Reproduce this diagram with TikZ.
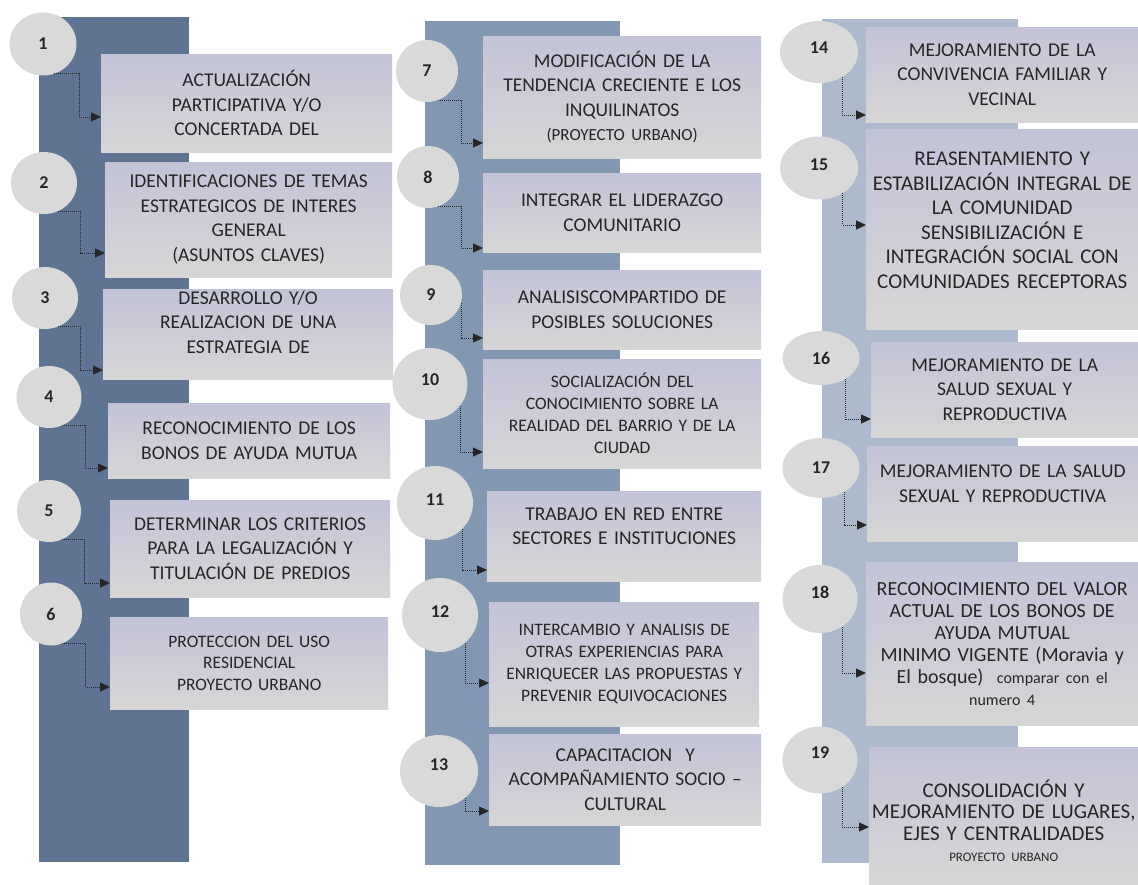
\documentclass[tikz,border=0pt]{standalone}
\usepackage{fontspec}
\setmainfont{Carlito}
\usepackage{xcolor}
\usepackage{tikz}
\usetikzlibrary{shapes,arrows,arrows.meta,positioning}
\definecolor{spinedark}{RGB}{95,115,146}
\definecolor{spinemid}{RGB}{130,151,177}
\definecolor{spinelight}{RGB}{173,186,205}
\definecolor{bubble}{RGB}{217,217,217}
\definecolor{boxtop}{RGB}{195,195,216}
\definecolor{boxbottom}{RGB}{214,214,214}
\definecolor{ink}{RGB}{38,38,38}
\tikzstyle{number} = [ellipse, fill=bubble, text=ink, inner sep=0pt, font=\fontsize{18}{20}\selectfont\bfseries]
\tikzstyle{task} = [rectangle, anchor=north west, top color=boxtop, bottom color=boxbottom, text=ink, align=center, inner xsep=2pt, inner ysep=0pt, font=\fontsize{19.5}{24.5}\selectfont]
\tikzstyle{boxw} = [minimum width=#1pt, text width=#1pt-4pt]
\tikzstyle{small} = [font=\fontsize{17.5}{22}\selectfont]
\tikzstyle{line} = [draw, ink, line width=0.9pt, dash pattern=on 1pt off 1pt, -{Triangle[length=10pt,width=9pt]}]

\begin{document}
\begin{tikzpicture}[x=1pt, y=-1pt]
    \useasboundingbox [fill=white] (0,0) rectangle (1138,884);
    % backbones
    \fill [spinedark] (39,17) rectangle (189,862);
    \fill [spinemid] (425,21) rectangle (620,865);
    \fill [spinelight] (822,19) rectangle (1018,863);

    % first column
    \node [task, boxw=291, minimum height=98pt] (b1) at (101,54) {ACTUALIZACIÓN\\PARTICIPATIVA Y/O\\CONCERTADA DEL};
    \node [task, boxw=287, minimum height=115pt] (b2) at (105,162) {IDENTIFICACIONES DE TEMAS\\ESTRATEGICOS DE INTERES\\GENERAL\\(ASUNTOS CLAVES)};
    \node [task, boxw=290, minimum height=90pt, text depth=73pt] (b3) at (103,289) {DESARROLLO Y/O\\REALIZACION DE UNA\\ESTRATEGIA DE};
    \node [task, boxw=282, minimum height=75pt] (b4) at (108,403) {RECONOCIMIENTO DE LOS\\BONOS DE AYUDA MUTUA};
    \node [task, boxw=280, minimum height=97pt] (b5) at (110,500) {DETERMINAR LOS CRITERIOS\\PARA LA LEGALIZACIÓN Y\\TITULACIÓN DE PREDIOS};
    \node [task, boxw=278, minimum height=92pt, font=\fontsize{17.5}{21.5}\selectfont] (b6) at (110,617) {PROTECCION DEL USO\\RESIDENCIAL\\PROYECTO URBANO};

    \node [number, minimum width=67pt, minimum height=63pt] (c1) at (43,44) {1};
    \node [number, minimum width=66pt, minimum height=62pt] (c2) at (44,183) {2};
    \node [number, minimum width=66pt, minimum height=62pt] (c3) at (45,298) {3};
    \node [number, minimum width=65pt, minimum height=62pt] (c4) at (49,397) {4};
    \node [number, minimum width=64pt, minimum height=62pt] (c5) at (49,511) {5};
    \node [number, minimum width=62pt, minimum height=63pt] (c6) at (51,614) {6};

    % second column
    \node [task, boxw=278, minimum height=122pt] (b7) at (483,36) {MODIFICACIÓN DE LA\\TENDENCIA CRECIENTE E LOS\\INQUILINATOS\\{\fontsize{17}{18}\selectfont (PROYECTO URBANO)}};
    \node [task, boxw=278, minimum height=79pt] (b8) at (483,173) {INTEGRAR EL LIDERAZGO\\COMUNITARIO};
    \node [task, boxw=278, minimum height=79pt] (b9) at (483,270) {ANALISISCOMPARTIDO DE\\POSIBLES SOLUCIONES};
    \node [task, small, boxw=278, minimum height=109pt] (b10) at (483,359) {SOCIALIZACIÓN DEL\\CONOCIMIENTO SOBRE LA\\REALIDAD DEL BARRIO Y DE LA\\CIUDAD};
    \node [task, boxw=274, minimum height=90pt, text depth=44.5pt] (b11) at (487,491) {TRABAJO EN RED ENTRE\\SECTORES E INSTITUCIONES};
    \node [task, small, boxw=270, minimum height=124pt] (b12) at (489,602) {INTERCAMBIO Y ANALISIS DE\\OTRAS EXPERIENCIAS PARA\\ENRIQUECER LAS PROPUESTAS Y\\PREVENIR EQUIVOCACIONES};
    \node [task, boxw=272, minimum height=91pt] (b13) at (489,734) {CAPACITACION~~Y\\ACOMPAÑAMIENTO SOCIO –\\CULTURAL};

    \node [number, minimum width=62pt, minimum height=62pt] (c7) at (427,71) {7};
    \node [number, minimum width=62pt, minimum height=62pt] (c8) at (428,177) {8};
    \node [number, minimum width=62pt, minimum height=60pt] (c9) at (431,295) {9};
    \node [number, minimum width=75pt, minimum height=72pt, text depth=8pt] (c10) at (430,384) {10};
    \node [number, minimum width=76pt, minimum height=74pt, text depth=6pt] (c11) at (435,503) {11};
    \node [number, minimum width=76pt, minimum height=74pt, text depth=6pt] (c12) at (440,615) {12};
    \node [number, minimum width=78pt, minimum height=72pt, text depth=12pt] (c13) at (439,771) {13};

    % third column
    \node [task, boxw=272, minimum height=95pt] (b14) at (866,27) {MEJORAMIENTO DE LA\\CONVIVENCIA FAMILIAR Y\\VECINAL};
    \node [task, boxw=272, minimum height=200pt, text depth=140.5pt, font=\fontsize{21}{24.5}\selectfont] (b15) at (866,129) {REASENTAMIENTO Y\\ESTABILIZACIÓN INTEGRAL DE\\LA COMUNIDAD\\SENSIBILIZACIÓN E\\INTEGRACIÓN SOCIAL CON\\COMUNIDADES RECEPTORAS};
    \node [task, boxw=267, minimum height=95pt] (b16) at (871,342) {MEJORAMIENTO DE LA\\SALUD SEXUAL Y\\REPRODUCTIVA};
    \node [task, boxw=271, minimum height=95pt, text depth=44.5pt] (b17) at (867,446) {MEJORAMIENTO DE LA SALUD\\SEXUAL Y REPRODUCTIVA};
    \node [task, boxw=272, minimum height=163pt, font=\fontsize{20}{22}\selectfont] (b18) at (866,562) {RECONOCIMIENTO DEL VALOR\\ACTUAL DE LOS BONOS DE\\AYUDA MUTUAL\\MINIMO VIGENTE (Moravia y\\El bosque)~~{\fontsize{16}{18}\selectfont comparar con el}\\{\fontsize{16}{18}\selectfont numero 4}};
    \node [task, boxw=269, minimum height=137pt, text depth=54pt, font=\fontsize{21}{21.5}\selectfont] (b19) at (869,747) {CONSOLIDACIÓN Y\\MEJORAMIENTO DE LUGARES,\\EJES Y CENTRALIDADES\\{\fontsize{13}{14}\selectfont PROYECTO\hspace{6pt}URBANO}};

    \node [number, minimum width=78pt, minimum height=62pt, text depth=8pt] (c14) at (819,52) {14};
    \node [number, minimum width=78pt, minimum height=63pt, text depth=6pt] (c15) at (819,168) {15};
    \node [number, minimum width=77pt, minimum height=54pt] (c16) at (821,358) {16};
    \node [number, minimum width=77pt, minimum height=60pt] (c17) at (821,468) {17};
    \node [number, minimum width=75pt, minimum height=68pt, text depth=14pt] (c18) at (820,599) {18};
    \node [number, minimum width=75pt, minimum height=67pt, text depth=14pt] (c19) at (820,760) {19};

    % connectors
    \path [line] (c1.-69) -- ++(25,0) |- (b1.west |- 0,117);
    \path [line] (c2.-64) -- ++(23,0) |- (b2.west |- 0,253);
    \path [line] (c3.-66) -- ++(23,0) |- (b3.west |- 0,370);
    \path [line] (c4.-65) -- ++(23,0) |- (b4.west |- 0,468);
    \path [line] (c5.-66) -- ++(23,0) |- (b5.west |- 0,583);
    \path [line] (c6.-70) -- ++(24,0) |- (b6.west |- 0,687);
    \path [line] (c7.-69) -- ++(23,0) |- (b7.west |- 0,143);
    \path [line] (c8.-71) -- ++(23,0) |- (b8.west |- 0,248);
    \path [line] (c9.-15) |- (b9.west |- 0,338);
    \path [line] (c10.-36) |- (b10.west |- 0,452);
    \path [line] (c11.-44) |- (b11.west |- 0,570);
    \path [line] (c12.-48) |- (b12.west |- 0,683);
    \path [line] (c13.-46) |- (b13.west |- 0,811);
    \path [line] (c14.-47) |- (b14.west |- 0,115);
    \path [line] (c15.-47) |- (b15.west |- 0,225);
    \path [line] (c16.-40) |- (b16.west |- 0,419);
    \path [line] (c17.-46) |- (b17.west |- 0,525);
    \path [line] (c18.-51) |- (b18.west |- 0,673);
    \path [line] (c19.-51) |- (b19.west |- 0,827);
\end{tikzpicture}
\end{document}
